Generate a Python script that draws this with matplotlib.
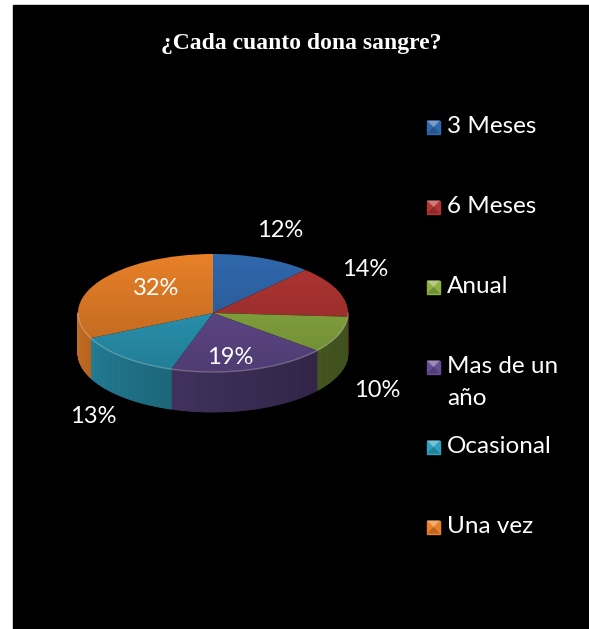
import numpy as np
import matplotlib
matplotlib.use("Agg")
import matplotlib.pyplot as plt
from matplotlib.collections import PolyCollection
from matplotlib.colors import LinearSegmentedColormap, to_rgb
from matplotlib.patches import Rectangle, Polygon, Circle

# frecuencia de donacion (%)
categorias = ["3 Meses", "6 Meses", "Anual", "Mas de un\naño", "Ocasional", "Una vez"]
porcentajes = [12, 14, 10, 19, 13, 32]
colores = ["#3068AD", "#B03532", "#8DB043", "#664D93", "#2DA0BF", "#E88028"]
titulo = "¿Cada cuanto dona sangre?"

# posiciones de las etiquetas (unidades del pastel)
pos_etiquetas = [(0.50, 1.39), (1.13, 0.73), (1.22, -1.32),
                 (0.13, -0.75), (-0.89, -1.75), (-0.42, 0.42)]

W, H = 589, 629
cx, cy, rx, ry = 213, 313, 135, 59   # centro y radios en pixeles
grosor = 40 / ry                     # altura del cilindro

plt.rcParams['font.family'] = ['Lato', 'DejaVu Sans']

fig = plt.figure(figsize=(W / 100, H / 100), dpi=100)
fig.patch.set_facecolor("white")

# capa de fondo en pixeles
fondo = fig.add_axes([0, 0, 1, 1])
fondo.set_xlim(0, W)
fondo.set_ylim(H, 0)
fondo.axis("off")
fondo.add_patch(Rectangle((13, 5), W - 13, H - 5, color="black", zorder=0))

fondo.text(301, 43, titulo, color="white", fontsize=17, fontweight="bold",
           family="Liberation Serif", ha="center", va="center")

# leyenda
for i, (cat, col) in enumerate(zip(categorias, colores)):
    yc = 127 + 80 * i
    x0, s = 427, 13
    base = np.array(to_rgb(col))
    fondo.add_patch(Rectangle((x0, yc - s / 2), s, s, color=col, zorder=2))
    fondo.add_patch(Polygon([(x0, yc - s / 2), (x0 + s, yc - s / 2), (x0 + s / 2, yc)],
                            color=base + (1 - base) * 0.35, lw=0, zorder=3))
    fondo.add_patch(Polygon([(x0, yc + s / 2), (x0 + s, yc + s / 2), (x0 + s / 2, yc)],
                            color=base * 0.8, lw=0, zorder=3))
    fondo.text(447, yc - 11, cat, color="white", fontsize=17.5, ha="left", va="top",
               linespacing=1.66)

# pastel 3D
xr = (-1.5, 1.5)
yr = (-2.2, 1.8)
px0 = cx + xr[0] * rx
py_top = cy - yr[1] * ry
ancho = (xr[1] - xr[0]) * rx
alto = (yr[1] - yr[0]) * ry
ax = fig.add_axes([px0 / W, (H - py_top - alto) / H, ancho / W, alto / H])
ax.patch.set_visible(False)

cunas, _ = ax.pie(porcentajes, colors=colores, startangle=90, counterclock=False,
                  radius=1, wedgeprops=dict(linewidth=0))
for c in cunas:
    c.set_zorder(3)

# pared lateral con sombreado segun el angulo
polys, caras = [], []
for c, col in zip(cunas, colores):
    base = np.array(to_rgb(col))
    t1, t2 = c.theta1 % 360, c.theta2 % 360
    if t2 <= t1:
        t2 += 360
    for off in (0, 360):
        a, b = max(t1, 180 + off), min(t2, 360 + off)
        if b <= a:
            continue
        ts = np.linspace(a, b, max(int(b - a), 2) + 1)
        for u, v in zip(ts[:-1], ts[1:]):
            ru, rv = np.radians(u), np.radians(v)
            quad = [(np.cos(ru), np.sin(ru)), (np.cos(rv), np.sin(rv)),
                    (np.cos(rv), np.sin(rv) - grosor), (np.cos(ru), np.sin(ru) - grosor)]
            tm = ((u + v) / 2) - off
            f = 0.45 + 0.42 * ((360 - tm) / 180) ** 1.5
            polys.append(quad)
            caras.append(np.clip(base * f, 0, 1))
ax.add_collection(PolyCollection(polys, facecolors=caras, edgecolors=caras,
                                 linewidths=0.6, zorder=2))

# degradado sobre la cara superior
grad = np.linspace(0, 1, 256).reshape(-1, 1)
cmap = LinearSegmentedColormap.from_list("sombra", [(0, 0, 0, 0), (0, 0, 0, 0.22)])
im = ax.imshow(grad, cmap=cmap, extent=[-1, 1, -1, 1], origin="upper",
               aspect="auto", zorder=4, interpolation="bilinear")
im.set_clip_path(Circle((0, 0), 1, transform=ax.transData))

# brillo del borde frontal
tb = np.radians(np.linspace(180, 360, 200))
ax.plot(np.cos(tb), np.sin(tb), color="white", alpha=0.25, lw=1, zorder=5)

for v, (lx, ly) in zip(porcentajes, pos_etiquetas):
    ax.text(lx, ly, f"{v}%", color="white", fontsize=17, ha="center", va="center",
            zorder=6)

ax.set_aspect("auto")
ax.set_xlim(*xr)
ax.set_ylim(*yr)
ax.axis("off")

fig.savefig("out.png", dpi=100, facecolor=fig.get_facecolor())
